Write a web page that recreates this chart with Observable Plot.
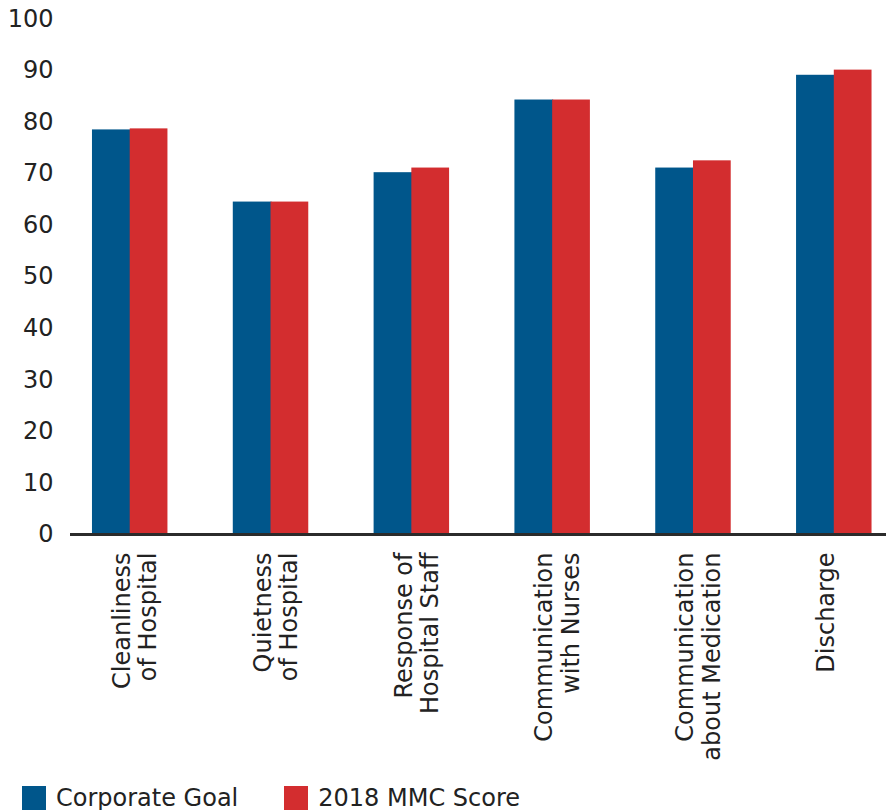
<!DOCTYPE html>
<html>
<head>
<meta charset="utf-8">
<script src="https://cdn.jsdelivr.net/npm/d3@7"></script>
<script src="https://cdn.jsdelivr.net/npm/@observablehq/plot@0.6"></script>
<style>
  html, body { margin: 0; padding: 0; background: #fff; }
  body { width: 886px; font-family: "DejaVu Sans", sans-serif; color: #222; }
  .legend { display: flex; align-items: center; margin-top: 6px; padding-left: 22px; font-size: 24px; line-height: 24px; }
  .legend .item { display: flex; align-items: center; }
  .legend .sw { width: 24px; height: 24px; margin-right: 10px; }
  .legend .item + .item { margin-left: 46px; }
</style>
</head>
<body>
<div id="chart"></div>
<script>
const categories = [
  "Cleanliness\nof Hospital",
  "Quietness\nof Hospital",
  "Response of\nHospital Staff",
  "Communication\nwith Nurses",
  "Communication\nabout Medication",
  "Discharge"
];
const seriesNames = ["Corporate Goal", "2018 MMC Score"];
const corporateGoal = [78.5, 64.5, 70.2, 84.3, 71.1, 89.1];
const mmcScore2018 = [78.7, 64.5, 71.1, 84.3, 72.5, 90.1];
const yTicks = [0, 10, 20, 30, 40, 50, 60, 70, 80, 90, 100];
const colors = ["#00568B", "#D32D2F"];

const rows = [];
categories.forEach((c, i) => {
  rows.push({category: c, series: seriesNames[0], value: corporateGoal[i]});
  rows.push({category: c, series: seriesNames[1], value: mmcScore2018[i]});
});

const W = 886, H = 780;
const xRange = [70, 893.5];
const padInner = 0.464, padOuter = 0.156;
const bw = d3.scaleBand().domain(categories).range(xRange)
  .paddingInner(padInner).paddingOuter(padOuter).bandwidth();
const half = bw / 2;

const chart = Plot.plot({
  width: W,
  height: H,
  marginLeft: 70,
  marginRight: 0,
  marginTop: 18.6,
  marginBottom: 246,
  style: {fontFamily: "DejaVu Sans, sans-serif", fontSize: "24px", color: "#222", background: "#fff"},
  x: {type: "band", domain: categories, range: xRange, paddingInner: padInner, paddingOuter: padOuter, round: false, axis: null, label: null},
  y: {domain: [0, 100], axis: null, label: null},
  color: {domain: seriesNames, range: colors},
  marks: [
    Plot.barY(rows.filter(d => d.series === seriesNames[0]), {x: "category", y: "value", fill: "series", insetRight: half - 1}),
    Plot.barY(rows.filter(d => d.series === seriesNames[1]), {x: "category", y: "value", fill: "series", insetLeft: half}),
    Plot.axisY({ticks: yTicks, tickSize: 0, tickPadding: 17, fontSize: 24, fill: "#222", label: null}),
    Plot.axisX({tickSize: 0, tickRotate: -90, tickPadding: 18, fontSize: 24, fill: "#222", label: null,
      textAnchor: "end", lineAnchor: "top", lineHeight: 1.1, dx: -19}),
    Plot.ruleY([0], {stroke: "#2b2b2b", strokeWidth: 3})
  ]
});
document.getElementById("chart").appendChild(chart);

const legend = document.createElement("div");
legend.className = "legend";
seriesNames.forEach((s, i) => {
  const item = document.createElement("div");
  item.className = "item";
  const sw = document.createElement("span");
  sw.className = "sw";
  sw.style.background = colors[i];
  const t = document.createElement("span");
  t.textContent = s;
  item.appendChild(sw);
  item.appendChild(t);
  legend.appendChild(item);
});
document.body.appendChild(legend);
</script>
</body>
</html>
